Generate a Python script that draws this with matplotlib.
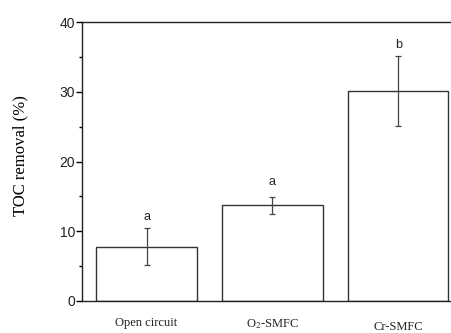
import numpy as np
import matplotlib.pyplot as plt
from matplotlib.ticker import MultipleLocator

plt.rcParams['mathtext.fontset'] = 'stix'

# Data
groups = ['Open circuit', 'O$_2$-SMFC', 'Cr-SMFC']
toc_removal = [7.8, 13.7, 30.1]
toc_err = [2.7, 1.2, 5.05]
letters = ['a', 'a', 'b']
letter_y = [12.1, 17.0, 36.7]

fig = plt.figure(figsize=(4.51, 3.33), dpi=100)
ax = fig.add_axes([82 / 451, 1 - 301 / 333, 1 - 82 / 451, 279 / 333])

x = np.arange(len(groups))
ax.bar(x, toc_removal, width=0.8, color='white', edgecolor='#333333', linewidth=1.0)
ax.errorbar(x, toc_removal, yerr=toc_err, fmt='none', ecolor='#444444',
            elinewidth=0.9, capsize=2, capthick=0.9)

for xi, lab, ly in zip(x, letters, letter_y):
    ax.text(xi, ly, lab, ha='center', va='center', fontsize=9,
            family='Liberation Sans', color='#222222')

ax.set_xlim(-0.513, 2.42)
ax.set_ylim(0, 40)
ax.yaxis.set_major_locator(MultipleLocator(10))
ax.yaxis.set_minor_locator(MultipleLocator(5))
ax.tick_params(axis='y', which='major', direction='out', length=4, width=1,
               labelsize=10, pad=1, labelcolor='#222222')
for t in ax.get_yticklabels():
    t.set_family('Liberation Sans')
ax.tick_params(axis='y', which='minor', direction='out', length=2.5, width=1)
ax.set_xticks([])
ax.spines['right'].set_visible(False)
for s in ['left', 'top', 'bottom']:
    ax.spines[s].set_linewidth(1.0)
    ax.spines[s].set_color('#222222')

label_offsets = [0, 0, -0.6]
for xi, g, off in zip(x, groups, label_offsets):
    ax.text(xi, -2.3 + off, g, ha='center', va='top', fontsize=9,
            family='Liberation Serif', color='#222222')

ax.set_ylabel('TOC removal (%)', family='Liberation Serif', fontsize=12)
ax.yaxis.set_label_coords(-0.145, 0.52)

fig.savefig('out.png', dpi=100)
